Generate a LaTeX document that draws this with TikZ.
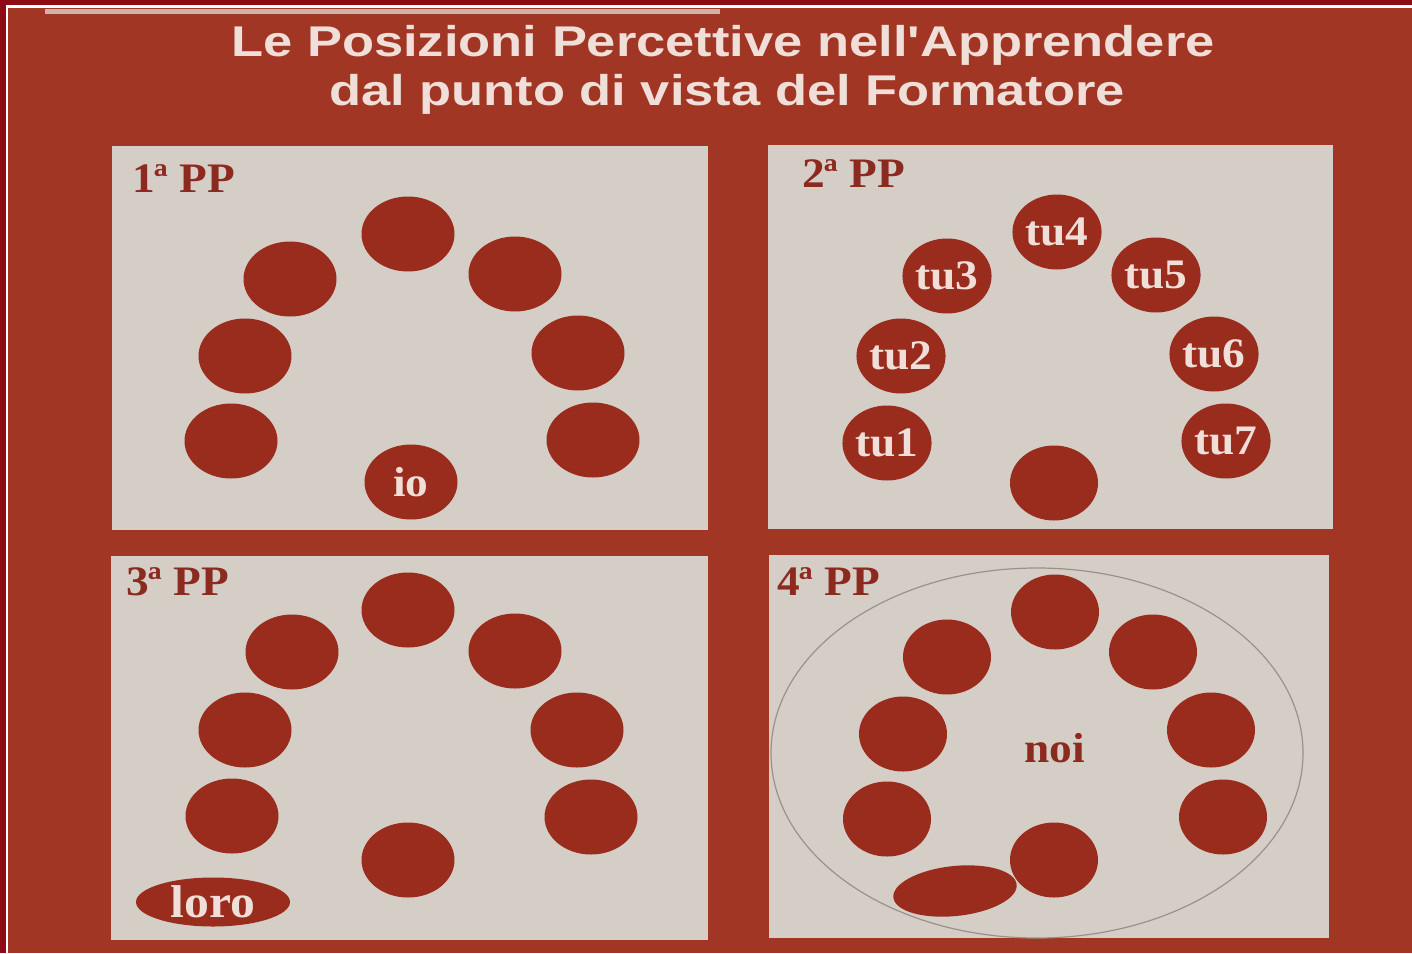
\documentclass[tikz,border=0pt]{standalone}
\usepackage{fontspec}
\setmainfont[FakeStretch=1.08]{Liberation Serif}
\newfontfamily\titlefont[FakeStretch=1.22]{Liberation Sans}
\usetikzlibrary{shapes.geometric,positioning}
\definecolor{framered}{HTML}{8E0A18}
\definecolor{bgred}{HTML}{A13624}
\definecolor{panel}{HTML}{D5CEC7}
\definecolor{seatred}{HTML}{9A2C1E}
\definecolor{labelred}{HTML}{8C2A20}
\definecolor{titlewhite}{HTML}{F0DED8}
\definecolor{ringgrey}{HTML}{9C908A}
\definecolor{paperedge}{HTML}{C9B5AC}

\begin{document}
\begin{tikzpicture}[x=1pt,y=-1pt,
  seat/.style={ellipse,fill=seatred,inner sep=0pt,minimum width=#1,minimum height=75pt,
    text=titlewhite,font=\fontsize{42}{42}\selectfont\bfseries},
  seat/.default=93pt,
  pplabel/.style={anchor=base west,inner sep=0pt,text=labelred,font=\fontsize{42}{42}\selectfont\bfseries},
  headline/.style={anchor=base,inner sep=0pt,text=titlewhite,font=\titlefont\bfseries\fontsize{43}{43}\selectfont}]
  \useasboundingbox (0,0) rectangle (1412,953);
  % frame and page
  \fill[framered] (0,0) rectangle (1412,953);
  \fill[white] (6,5) rectangle (1412,953);
  \fill[bgred] (8,8) rectangle (1412,953);
  \fill[paperedge] (45,9) rectangle (720,14);
  % title
  \node[headline] (title1) at (723,56) {Le Posizioni Percettive nell'Apprendere};
  \node[headline] (title2) at (727,105) {dal punto di vista del Formatore};
  % four panels
  \foreach \n/\xa/\ya/\xb/\yb in {1/112/146/708/530,2/768/145/1333/529,3/111/556/708/940,4/769/555/1329/938}
    \fill[panel] (\xa,\ya) rectangle (\xb,\yb);
  % 1a PP
  \node[pplabel] (pp1) at (132,192) {1ª PP};
  \foreach \s/\x/\y in {a/408/234,b/290/279,c/245/356,d/231/441,e/515/274,f/578/353,g/593/440}
    \node[seat] (one\s) at (\x,\y) {};
  \node[seat] (io) at (411,482) {io};
  % 2a PP
  \node[pplabel] (pp2) at (802,187) {2ª PP};
  \foreach \i/\x/\y in {1/887/443,2/901/356,3/947/276,4/1057/232,5/1156/275,6/1214/354,7/1226/441}
    \node[seat=87pt] (tu\i) at (\x,\y) {tu\i};
  \node[seat=88pt] (two0) at (1054,483) {};
  % 3a PP
  \node[pplabel] (pp3) at (126,595) {3ª PP};
  \foreach \s/\x/\y in {a/408/610,b/292/652,c/245/730,d/232/816,e/515/651,f/577/730,g/591/817,h/408/860}
    \node[seat] (three\s) at (\x,\y) {};
  \node[seat=154pt,minimum height=49pt,font=\fontsize{46}{46}\selectfont\bfseries] (loro) at (213,902) {loro};
  % 4a PP
  \node[draw=ringgrey,line width=1.2pt,ellipse,minimum width=532pt,minimum height=370pt] (ring) at (1037,753) {};
  \node[pplabel] (pp4) at (777,595) {4ª PP};
  \foreach \s/\x/\y in {a/1055/612,b/947/657,c/903/734,d/887/819,e/1153/652,f/1211/730,g/1223/817,h/1054/860}
    \node[seat=88pt] (four\s) at (\x,\y) {};
  \node[seat=124pt,minimum height=50pt,rotate=6] (four0) at (955,891) {};
  \node[text=labelred,font=\fontsize{42}{42}\selectfont\bfseries] (noi) at (1055,748) {noi};
\end{tikzpicture}
\end{document}
